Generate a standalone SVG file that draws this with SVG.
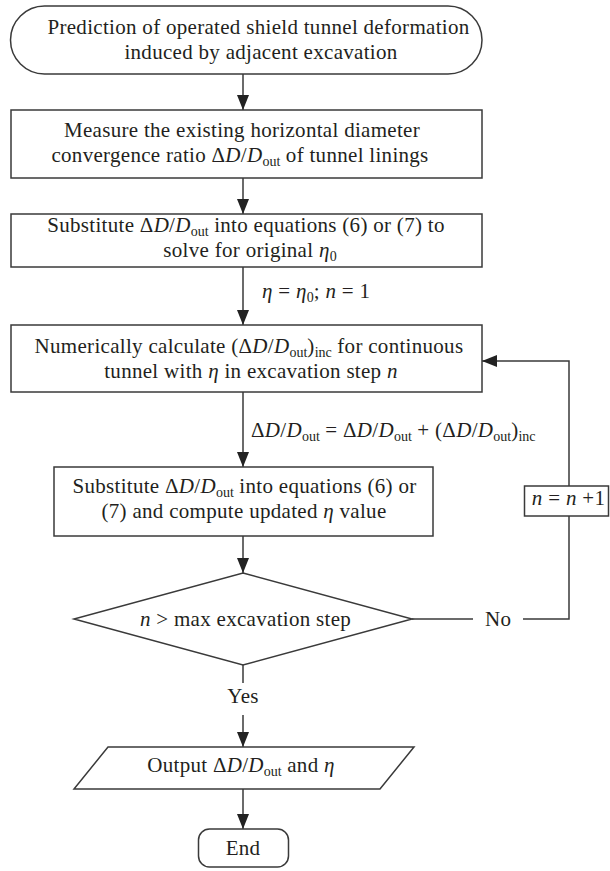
<svg xmlns="http://www.w3.org/2000/svg" width="610" height="871" viewBox="0 0 610 871">
<style>
.bg{fill:#fff}
.n{fill:#fff;stroke:#3a3a3a;stroke-width:1.5}
.c{fill:none;stroke:#3a3a3a;stroke-width:1.5}
text{font-family:"Liberation Serif","Times New Roman",serif;font-size:21px;letter-spacing:0.3px;fill:#231f20}
.m{text-anchor:middle}
.i{font-style:italic}
.s{font-size:14px;letter-spacing:0}
</style>
<defs>
<marker id="ah" markerUnits="userSpaceOnUse" markerWidth="15" markerHeight="12" refX="15" refY="6" orient="auto">
<path d="M0,0 L15,6 L0,12 z" fill="#222"/>
</marker>
</defs>
<rect class="bg" x="0" y="0" width="610" height="871"/>

<g id="connectors">
<path class="c" d="M243,74 V110" marker-end="url(#ah)"/>
<path class="c" d="M243,178 V214" marker-end="url(#ah)"/>
<path class="c" d="M243,267 V325" marker-end="url(#ah)"/>
<path class="c" d="M243,392 V467" marker-end="url(#ah)"/>
<path class="c" d="M243,536 V573" marker-end="url(#ah)"/>
<path class="c" d="M243,665 V683"/>
<path class="c" d="M243,715 V747" marker-end="url(#ah)"/>
<path class="c" d="M243,789 V829" marker-end="url(#ah)"/>
<path class="c" d="M412,619 H473"/>
<path class="c" d="M523,619 H569 V516"/>
<path class="c" d="M569,486 V361 H482" marker-end="url(#ah)"/>
<text x="262" y="298"><tspan class="i">η</tspan> = <tspan class="i">η</tspan><tspan class="s" dy="4">0</tspan><tspan dy="-4">; </tspan><tspan class="i">n</tspan> = 1</text>
<text x="251" y="437">Δ<tspan class="i">D</tspan>/<tspan class="i">D</tspan><tspan class="s" dy="4">out</tspan><tspan dy="-4"> = Δ</tspan><tspan class="i">D</tspan>/<tspan class="i">D</tspan><tspan class="s" dy="4">out</tspan><tspan dy="-4"> + (Δ</tspan><tspan class="i">D</tspan>/<tspan class="i">D</tspan><tspan class="s" dy="4">out</tspan><tspan dy="-4">)</tspan><tspan class="s" dy="4">inc</tspan></text>
<text x="485" y="626">No</text>
<text class="m" x="243" y="703">Yes</text>
</g>

<g id="start">
<rect class="n" x="10.5" y="6" width="471.5" height="68" rx="34"/>
<text class="m" x="258.5" y="34">Prediction of operated shield tunnel deformation</text>
<text class="m" x="261" y="59">induced by adjacent excavation</text>
</g>

<g id="measure">
<rect class="n" x="11" y="110" width="471" height="68"/>
<text class="m" x="242" y="137">Measure the existing horizontal diameter</text>
<text class="m" x="240" y="162">convergence ratio Δ<tspan class="i">D</tspan>/<tspan class="i">D</tspan><tspan class="s" dy="4">out</tspan><tspan dy="-4"> of tunnel linings</tspan></text>
</g>

<g id="substitute1">
<rect class="n" x="11" y="214" width="471" height="53"/>
<text class="m" x="246" y="232">Substitute Δ<tspan class="i">D</tspan>/<tspan class="i">D</tspan><tspan class="s" dy="4">out</tspan><tspan dy="-4"> into equations (6) or (7) to</tspan></text>
<text class="m" x="250" y="257">solve for original <tspan class="i">η</tspan><tspan class="s" dy="4">0</tspan></text>
</g>

<g id="calculate">
<rect class="n" x="11" y="325" width="471" height="67"/>
<text class="m" x="249" y="353">Numerically calculate (Δ<tspan class="i">D</tspan>/<tspan class="i">D</tspan><tspan class="s" dy="4">out</tspan><tspan dy="-4">)</tspan><tspan class="s" dy="4">inc</tspan><tspan dy="-4"> for continuous</tspan></text>
<text class="m" x="251" y="378">tunnel with <tspan class="i">η</tspan> in excavation step <tspan class="i">n</tspan></text>
</g>

<g id="substitute2">
<rect class="n" x="54" y="467" width="379" height="69"/>
<text class="m" x="244.5" y="493">Substitute Δ<tspan class="i">D</tspan>/<tspan class="i">D</tspan><tspan class="s" dy="4">out</tspan><tspan dy="-4"> into equations (6) or</tspan></text>
<text class="m" x="244" y="518">(7) and compute updated <tspan class="i">η</tspan> value</text>
</g>

<g id="increment">
<rect class="n" x="524.5" y="486" width="84" height="30"/>
<text class="m" x="568.5" y="505"><tspan class="i">n</tspan> = <tspan class="i">n</tspan> +1</text>
</g>

<g id="decision">
<polygon class="n" points="243,573 412,619 243,665 74,619"/>
<text class="m" x="245.5" y="626"><tspan class="i">n</tspan> &gt; max excavation step</text>
</g>

<g id="output">
<polygon class="n" points="108,747 414,747 380,789 74,789"/>
<text class="m" x="241" y="772">Output Δ<tspan class="i">D</tspan>/<tspan class="i">D</tspan><tspan class="s" dy="4">out</tspan><tspan dy="-4"> and </tspan><tspan class="i">η</tspan></text>
</g>

<g id="end">
<rect class="n" x="198.5" y="829" width="90" height="38" rx="11"/>
<text class="m" x="243" y="855">End</text>
</g>
</svg>
